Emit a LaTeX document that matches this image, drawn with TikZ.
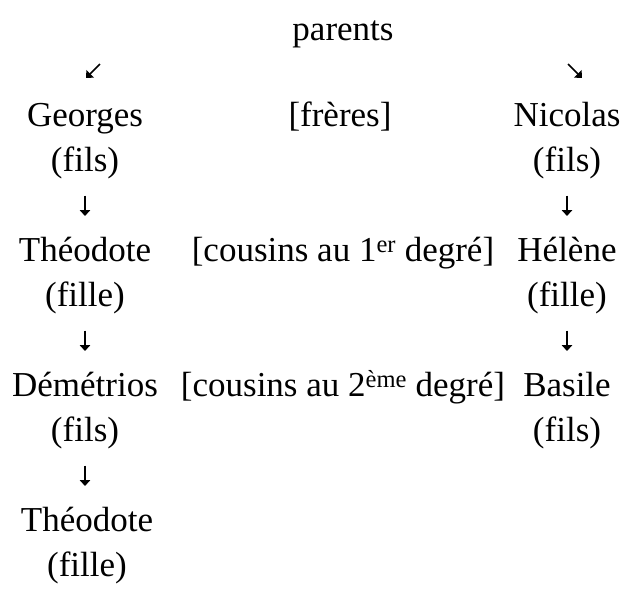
\documentclass[tikz,border=0pt]{standalone}
\usepackage{fontspec}
\setmainfont{Liberation Serif}
\usetikzlibrary{arrows.meta}
\begin{document}
\begin{tikzpicture}[x=1pt,y=-1pt,
  lbl/.style={font=\fontsize{35}{42}\selectfont, inner sep=0pt, anchor=base},
  arr/.style={line width=1.7pt, -{Triangle[length=6pt 0, width=10.5pt 0]}}]
\useasboundingbox (0,0) rectangle (628,600);
\def\ca{85}\def\cb{343}\def\cc{567}
% row 0
\node[lbl] (parents) at (343,40) {parents};
% row 1
\coordinate (dlA) at (100,64); \coordinate (dlB) at (86,78);
\coordinate (drA) at (568,64); \coordinate (drB) at (582,78);
\draw[arr] (dlA) -- (dlB);
\draw[arr] (drA) -- (drB);
% row 2
\node[lbl] (georges) at (\ca,126.3) {Georges};
\node[lbl] (freres) at (340,126.3) {[frères]};
\node[lbl] (nicolas) at (\cc,126.3) {Nicolas};
% row 3
\node[lbl] (filsA) at (\ca,171.3) {(fils)};
\node[lbl] (filsB) at (\cc,171.3) {(fils)};
% row 4
\coordinate (a1s) at (\ca,195.5); \coordinate (a1e) at (\ca,216);
\coordinate (b1s) at (\cc,195.5); \coordinate (b1e) at (\cc,216);
\draw[arr] (a1s) -- (a1e);
\draw[arr] (b1s) -- (b1e);
% row 5
\node[lbl] (theoA) at (\ca,261.3) {Théodote};
\node[lbl] (cous1) at (\cb,261.3) {[cousins au 1\textsuperscript{er} degré]};
\node[lbl] (helene) at (\cc,261.3) {Hélène};
% row 6
\node[lbl] (filleA) at (\ca,306.3) {(fille)};
\node[lbl] (filleB) at (\cc,306.3) {(fille)};
% row 7
\coordinate (a2s) at (\ca,330.5); \coordinate (a2e) at (\ca,351);
\coordinate (b2s) at (\cc,330.5); \coordinate (b2e) at (\cc,351);
\draw[arr] (a2s) -- (a2e);
\draw[arr] (b2s) -- (b2e);
% row 8
\node[lbl] (demetrios) at (\ca,396.3) {Démétrios};
\node[lbl] (cous2) at (\cb,396.3) {[cousins au 2\textsuperscript{ème} degré]};
\node[lbl] (basile) at (\cc,396.3) {Basile};
% row 9
\node[lbl] (filsC) at (\ca,441.3) {(fils)};
\node[lbl] (filsD) at (\cc,441.3) {(fils)};
% row 10
\coordinate (a3s) at (\ca,465.5); \coordinate (a3e) at (\ca,486);
\draw[arr] (a3s) -- (a3e);
% row 11
\node[lbl] (theoB) at (87,531.3) {Théodote};
% row 12
\node[lbl] (filleC) at (87,576.3) {(fille)};
\end{tikzpicture}
\end{document}
